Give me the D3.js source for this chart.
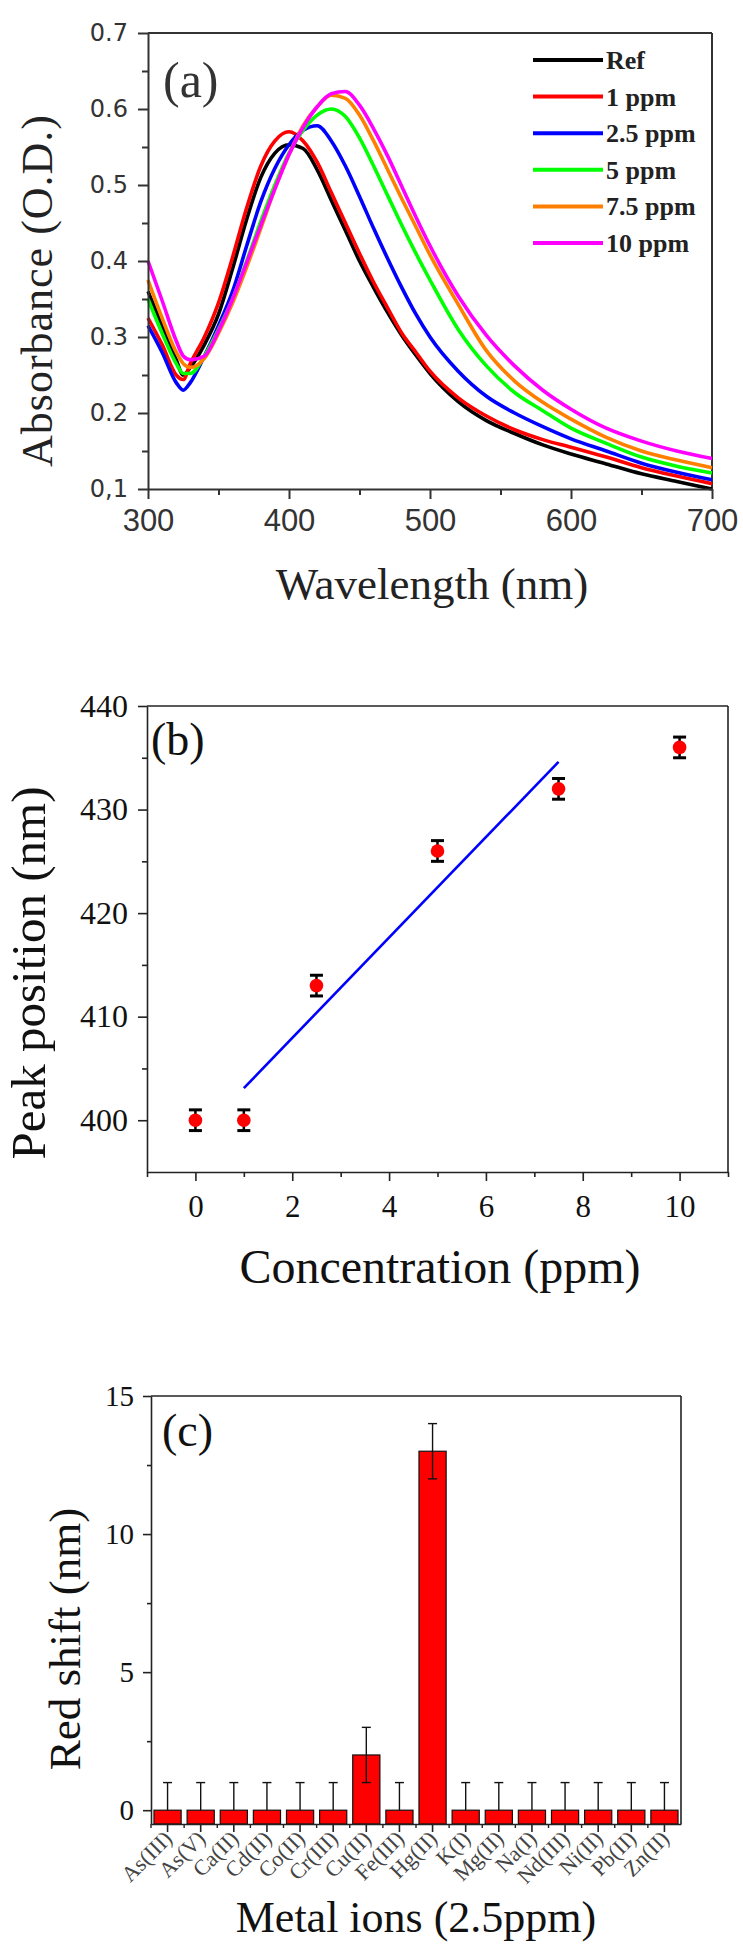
<!DOCTYPE html>
<html><head><meta charset="utf-8">
<script src="https://cdn.jsdelivr.net/npm/d3@7"></script>
<style>body{margin:0;background:#fff}</style>
</head><body>
<svg id="chart" width="743" height="1950"></svg>
<script>
// ---------- Panel (a) data ----------
const wavelengths = [300,310,320,325,330,340,350,360,370,380,390,400,410,420,430,440,450,460,470,480,490,500,520,540,560,580,600,625,650,675,700];
const seriesNames = ["Ref","1 ppm","2.5 ppm","5 ppm","7.5 ppm","10 ppm"];
const seriesColors = ["#000000","#ff0000","#0000ff","#00ff00","#ff8000","#ff00ff"];
const absRef  = [.36,.315,.27,.25,.26,.29,.33,.39,.455,.51,.542,.553,.548,.52,.48,.44,.40,.365,.332,.302,.276,.252,.215,.19,.173,.158,.146,.133,.12,.11,.10];
const abs1    = [.325,.29,.25,.244,.265,.30,.345,.405,.47,.525,.558,.57,.558,.53,.49,.45,.41,.372,.338,.305,.28,.255,.22,.196,.178,.165,.155,.142,.128,.117,.107];
const abs2_5  = [.315,.28,.24,.23,.24,.275,.315,.36,.42,.478,.522,.553,.572,.578,.558,.525,.485,.443,.403,.365,.33,.30,.255,.222,.20,.182,.166,.15,.134,.122,.112];
const abs5    = [.35,.305,.265,.252,.252,.275,.31,.35,.40,.452,.50,.542,.572,.592,.60,.59,.562,.525,.486,.447,.41,.375,.31,.262,.227,.203,.18,.16,.142,.13,.121];
const abs7_5  = [.375,.325,.28,.265,.26,.272,.305,.345,.392,.443,.495,.54,.578,.603,.618,.614,.592,.558,.52,.482,.445,.408,.343,.282,.242,.214,.192,.168,.15,.138,.128];
const abs10   = [.40,.348,.295,.275,.27,.275,.308,.35,.398,.447,.495,.54,.576,.603,.62,.623,.605,.574,.538,.498,.458,.42,.354,.302,.262,.23,.205,.18,.163,.15,.14];
const seriesValues = [absRef, abs1, abs2_5, abs5, abs7_5, abs10];
const aXTicks = [300,400,500,600,700];
const aYTicks = [0.1,0.2,0.3,0.4,0.5,0.6,0.7];
const aYTickLabels = ["0,1","0.2","0.3","0.4","0.5","0.6","0.7"];

// ---------- Panel (b) data ----------
const concentrations = [0,1,2.5,5,7.5,10];
const peakPositions = [400,400,413,426,432,436];
const peakErrors = [1,1,1,1,1,1];
const fitX = [1,7.5];
const fitY = [403.1,434.6];
const bXTicks = [0,2,4,6,8,10];
const bYTicks = [400,410,420,430,440];

// ---------- Panel (c) data ----------
const metalIons = ["As(III)","As(V)","Ca(II)","Cd(II)","Co(II)","Cr(III)","Cu(II)","Fe(III)","Hg(II)","K(I)","Mg(II)","Na(I)","Nd(III)","Ni(II)","Pb(II)","Zn(II)"];
const redShifts = [0,0,0,0,0,0,2,0,13,0,0,0,0,0,0,0];
const errUp =   [1,1,1,1,1,1,1,1,1,1,1,1,1,1,1,1];
const errDown = [0,0,0,0,0,0,1,0,1,0,0,0,0,0,0,0];
const cYTicks = [0,5,10,15];

const svg = d3.select("#chart");
svg.append("rect").attr("width",743).attr("height",1950).attr("fill","#fff");
const serif = "'Liberation Serif','Times New Roman',serif";

function styleAxis(g, color, width){
  g.select(".domain").attr("stroke",color).attr("stroke-width",width);
  g.selectAll(".tick line").attr("stroke",color).attr("stroke-width",width);
}

// ================= Panel (a) =================
{
  const x = d3.scaleLinear().domain([300,700]).range([148,712]);
  const y = d3.scaleLinear().domain([0.1,0.7]).range([489,33]);
  const g = svg.append("g");
  const col = "#333";
  // frame top/right
  g.append("line").attr("x1",x(300)).attr("x2",x(700)).attr("y1",y(0.7)).attr("y2",y(0.7)).attr("stroke",col).attr("stroke-width",2);
  g.append("line").attr("x1",x(700)).attr("x2",x(700)).attr("y1",y(0.7)).attr("y2",y(0.1)).attr("stroke",col).attr("stroke-width",2);

  const line = d3.line().x((d,i)=>x(wavelengths[i])).y(d=>y(d)).curve(d3.curveMonotoneX);
  seriesValues.forEach((vals,k)=>{
    g.append("path").attr("d",line(vals)).attr("fill","none")
      .attr("stroke",seriesColors[k]).attr("stroke-width",3.6).attr("stroke-linejoin","round");
  });

  const xa = g.append("g").attr("transform",`translate(0,${y(0.1)})`)
    .call(d3.axisBottom(x).tickValues(aXTicks).tickSize(10).tickSizeOuter(0).tickFormat(d3.format("d")));
  styleAxis(xa,col,2);
  xa.selectAll("text").attr("font-family","'Liberation Sans',Arial,sans-serif").attr("font-size",31).attr("fill","#333").attr("dy","0.95em");
  const xm = g.append("g").attr("transform",`translate(0,${y(0.1)})`)
    .call(d3.axisBottom(x).tickValues([350,450,550,650]).tickSize(6).tickSizeOuter(0).tickFormat(""));
  styleAxis(xm,col,2); xm.select(".domain").remove();

  const ya = g.append("g").attr("transform",`translate(${x(300)},0)`)
    .call(d3.axisLeft(y).tickValues(aYTicks).tickSize(10).tickSizeOuter(0).tickFormat((d,i)=>aYTickLabels[i]));
  styleAxis(ya,col,2);
  ya.selectAll("text").attr("font-family","'DejaVu Sans',sans-serif").attr("font-size",24).attr("fill","#333").attr("x",-20);
  const ym = g.append("g").attr("transform",`translate(${x(300)},0)`)
    .call(d3.axisLeft(y).tickValues([0.15,0.25,0.35,0.45,0.55,0.65]).tickSize(6).tickSizeOuter(0).tickFormat(""));
  styleAxis(ym,col,2); ym.select(".domain").remove();

  g.append("text").attr("x",163).attr("y",97).attr("font-family",serif).attr("font-size",50).attr("fill","#333").text("(a)");

  // legend
  const leg = g.append("g");
  seriesNames.forEach((n,k)=>{
    const ly = 60 + k*36.6;
    leg.append("line").attr("x1",533).attr("x2",603).attr("y1",ly).attr("y2",ly).attr("stroke",seriesColors[k]).attr("stroke-width",4);
    leg.append("text").attr("x",606).attr("y",ly+9).attr("font-family",serif).attr("font-weight","bold")
      .attr("font-size",26).attr("fill","#222").text(n);
  });

  g.append("text").attr("x",432).attr("y",599).attr("text-anchor","middle").attr("font-family",serif)
    .attr("font-size",45).attr("fill","#222").text("Wavelength (nm)");
  g.append("text").attr("transform",`translate(52,${(y(0.1)+92)/2}) rotate(-90)`).attr("text-anchor","middle")
    .attr("font-family",serif).attr("font-size",44).attr("letter-spacing",1).attr("fill","#222").text("Absorbance (O.D.)");
}

// ================= Panel (b) =================
{
  const x = d3.scaleLinear().domain([-1,11]).range([147,728]);
  const y = d3.scaleLinear().domain([395,440]).range([1172,706]);
  const g = svg.append("g");
  const col = "#222";
  g.append("line").attr("x1",x(-1)).attr("x2",x(11)).attr("y1",y(440)).attr("y2",y(440)).attr("stroke",col).attr("stroke-width",1.6);
  g.append("line").attr("x1",x(11)).attr("x2",x(11)).attr("y1",y(440)).attr("y2",y(395)).attr("stroke",col).attr("stroke-width",1.6);

  const xa = g.append("g").attr("transform",`translate(0,${y(395)})`)
    .call(d3.axisBottom(x).tickValues(bXTicks).tickSize(9).tickSizeOuter(0).tickFormat(d3.format("d")));
  styleAxis(xa,col,1.6);
  xa.selectAll("text").attr("font-family",serif).attr("font-size",31).attr("fill","#111").attr("dy","1.05em");
  const xm = g.append("g").attr("transform",`translate(0,${y(395)})`)
    .call(d3.axisBottom(x).tickValues([-1,1,3,5,7,9,11]).tickSize(5).tickSizeOuter(0).tickFormat(""));
  styleAxis(xm,col,1.6); xm.select(".domain").remove();

  const ya = g.append("g").attr("transform",`translate(${x(-1)},0)`)
    .call(d3.axisLeft(y).tickValues(bYTicks).tickSize(9).tickSizeOuter(0).tickFormat(d3.format("d")));
  styleAxis(ya,col,1.6);
  ya.selectAll("text").attr("font-family",serif).attr("font-size",32).attr("fill","#111").attr("x",-19);
  const ym = g.append("g").attr("transform",`translate(${x(-1)},0)`)
    .call(d3.axisLeft(y).tickValues([405,415,425,435]).tickSize(5).tickSizeOuter(0).tickFormat(""));
  styleAxis(ym,col,1.6); ym.select(".domain").remove();

  // fit line
  g.append("line").attr("x1",x(fitX[0])).attr("y1",y(fitY[0])).attr("x2",x(fitX[1])).attr("y2",y(fitY[1]))
    .attr("stroke","#0000ff").attr("stroke-width",2.6);

  // error bars + points
  concentrations.forEach((c,i)=>{
    const cx = x(c), top = y(peakPositions[i]+peakErrors[i]), bot = y(peakPositions[i]-peakErrors[i]);
    g.append("line").attr("x1",cx).attr("x2",cx).attr("y1",top).attr("y2",bot).attr("stroke","#000").attr("stroke-width",2.5);
    [top,bot].forEach(yy=>g.append("line").attr("x1",cx-6.5).attr("x2",cx+6.5).attr("y1",yy).attr("y2",yy).attr("stroke","#000").attr("stroke-width",3));
    g.append("circle").attr("cx",cx).attr("cy",y(peakPositions[i])).attr("r",6.8).attr("fill","#ff0000");
  });

  g.append("text").attr("x",151).attr("y",755).attr("font-family",serif).attr("font-size",46).attr("fill","#111").text("(b)");
  g.append("text").attr("x",440).attr("y",1283).attr("text-anchor","middle").attr("font-family",serif)
    .attr("font-size",48).attr("fill","#111").text("Concentration (ppm)");
  g.append("text").attr("transform",`translate(45,973) rotate(-90)`).attr("text-anchor","middle")
    .attr("font-family",serif).attr("font-size",49).attr("fill","#111").text("Peak position (nm)");
}

// ================= Panel (c) =================
{
  const x = d3.scaleBand().domain(metalIons).range([151,681]).paddingInner(0.18).paddingOuter(0.09);
  const y = d3.scaleLinear().domain([-0.5,15]).range([1824,1396]);
  const g = svg.append("g");
  const col = "#222";
  g.append("line").attr("x1",151).attr("x2",681).attr("y1",y(15)).attr("y2",y(15)).attr("stroke",col).attr("stroke-width",1.6);
  g.append("line").attr("x1",681).attr("x2",681).attr("y1",y(15)).attr("y2",y(-0.5)).attr("stroke",col).attr("stroke-width",1.6);

  // bars
  metalIons.forEach((m,i)=>{
    g.append("rect").attr("x",x(m)).attr("width",x.bandwidth())
      .attr("y",y(redShifts[i])).attr("height",y(-0.5)-y(redShifts[i]))
      .attr("fill","#ff0000").attr("stroke","#111").attr("stroke-width",1.2);
  });
  // error bars
  metalIons.forEach((m,i)=>{
    const cx = x(m)+x.bandwidth()/2;
    const top = y(redShifts[i]+errUp[i]), bot = y(redShifts[i]-errDown[i]);
    g.append("line").attr("x1",cx).attr("x2",cx).attr("y1",top).attr("y2",bot).attr("stroke","#111").attr("stroke-width",1.4);
    g.append("line").attr("x1",cx-4.5).attr("x2",cx+4.5).attr("y1",top).attr("y2",top).attr("stroke","#111").attr("stroke-width",1.4);
    if (errDown[i]>0) g.append("line").attr("x1",cx-4.5).attr("x2",cx+4.5).attr("y1",bot).attr("y2",bot).attr("stroke","#111").attr("stroke-width",1.4);
  });

  const xa = g.append("g").attr("transform",`translate(0,${y(-0.5)})`)
    .call(d3.axisBottom(x).tickSize(8).tickSizeOuter(0));
  styleAxis(xa,col,1.6);
  xa.selectAll(".tick text").attr("text-anchor","end").attr("font-family",serif).attr("font-size",22)
    .attr("fill","#444").attr("dy",null).attr("y",null)
    .attr("transform","translate(6,16) rotate(-45)");
  // minor ticks at band boundaries
  const step = x.step();
  metalIons.forEach((m,i)=>{
    const bx = x(m) - (step - x.bandwidth())/2;
    g.append("line").attr("x1",bx).attr("x2",bx).attr("y1",y(-0.5)).attr("y2",y(-0.5)+4).attr("stroke",col).attr("stroke-width",1.4);
  });

  const ya = g.append("g").attr("transform",`translate(151,0)`)
    .call(d3.axisLeft(y).tickValues(cYTicks).tickSize(8).tickSizeOuter(0).tickFormat(d3.format("d")));
  styleAxis(ya,col,1.6);
  ya.selectAll("text").attr("font-family",serif).attr("font-size",29).attr("fill","#111").attr("x",-17);
  const ym = g.append("g").attr("transform",`translate(151,0)`)
    .call(d3.axisLeft(y).tickValues([2.5,7.5,12.5]).tickSize(4).tickSizeOuter(0).tickFormat(""));
  styleAxis(ym,col,1.6); ym.select(".domain").remove();

  g.append("text").attr("x",162).attr("y",1446).attr("font-family",serif).attr("font-size",46).attr("fill","#111").text("(c)");
  g.append("text").attr("x",416).attr("y",1932).attr("text-anchor","middle").attr("font-family",serif)
    .attr("font-size",44).attr("fill","#111").text("Metal ions (2.5ppm)");
  g.append("text").attr("transform",`translate(80,1639) rotate(-90)`).attr("text-anchor","middle")
    .attr("font-family",serif).attr("font-size",45).attr("fill","#111").text("Red shift (nm)");
}
</script>
</body></html>
